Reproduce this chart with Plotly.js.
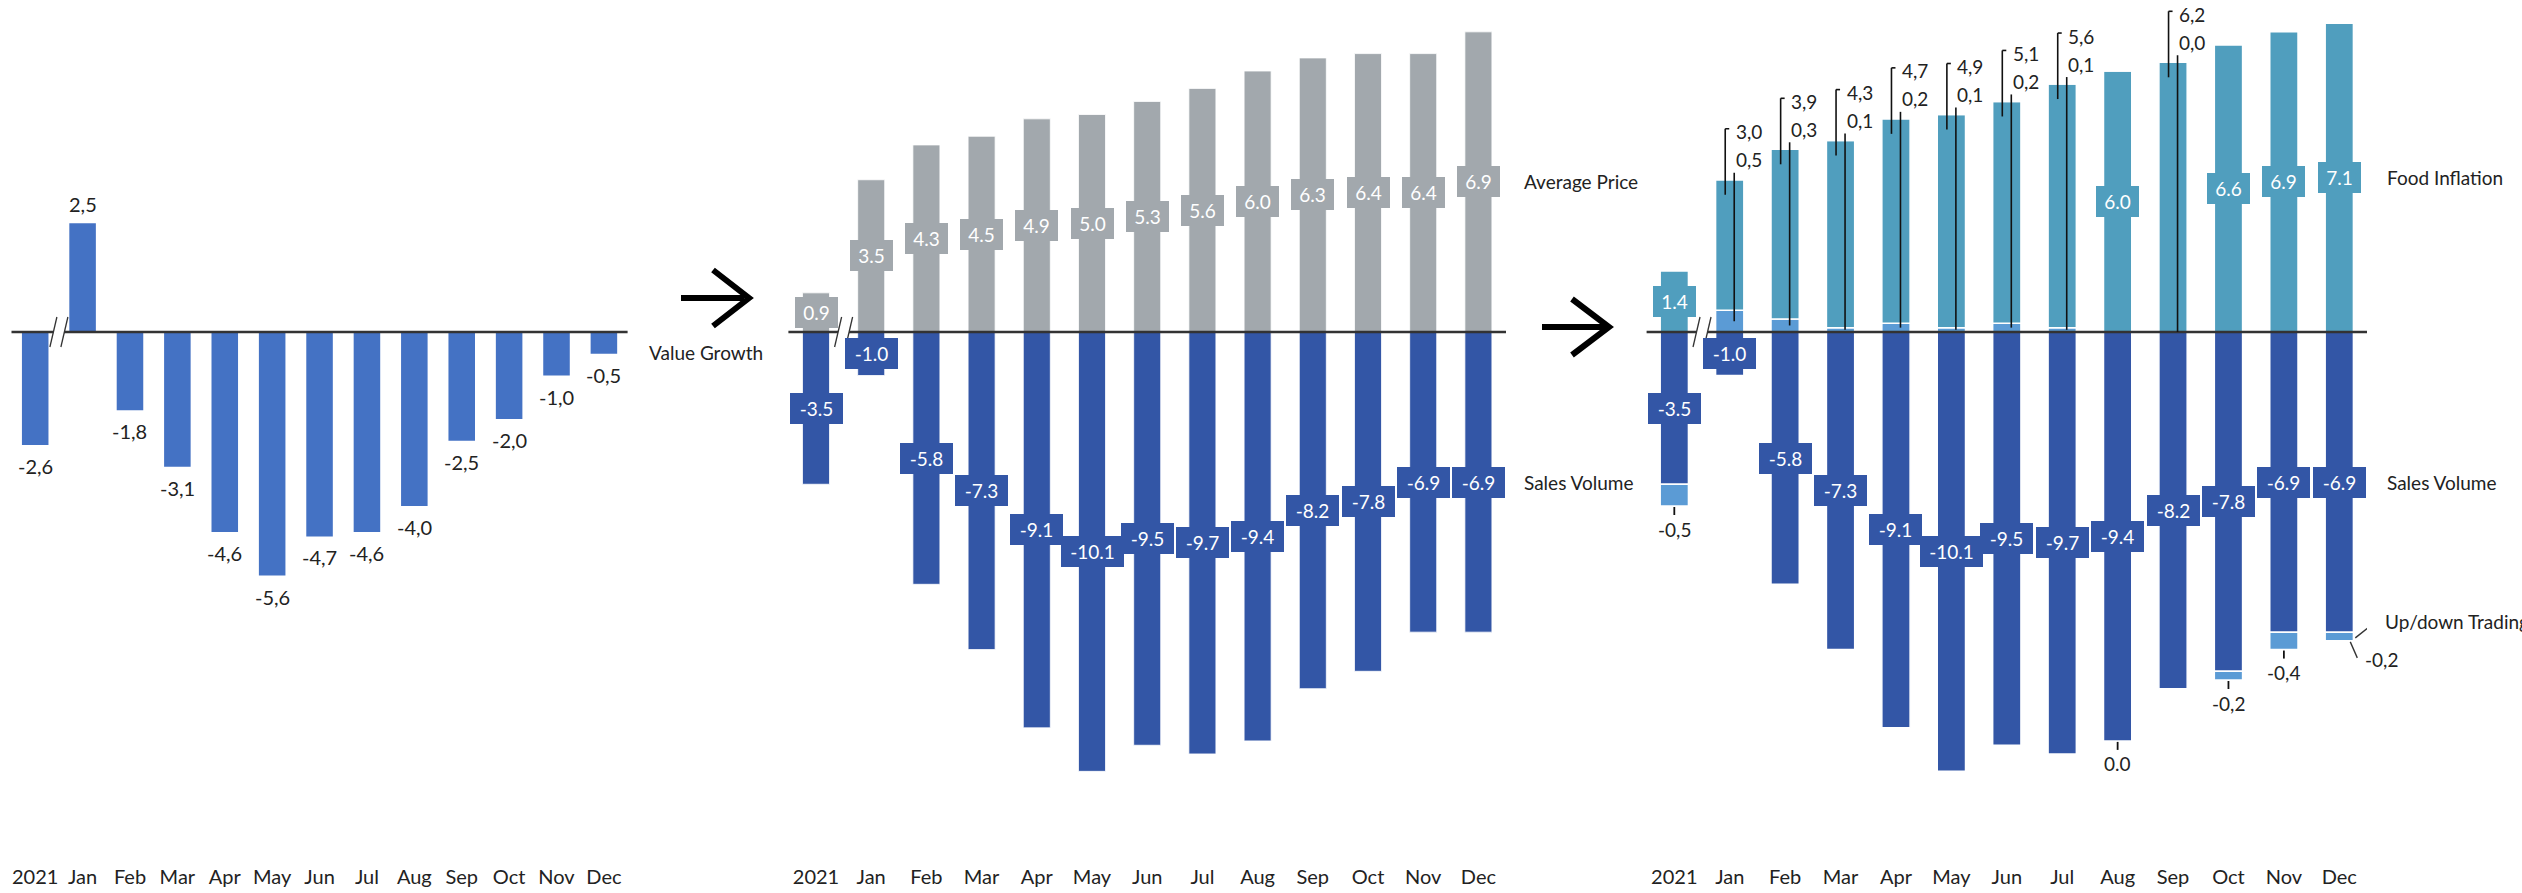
<!DOCTYPE html>
<html>
<head>
<meta charset="utf-8">
<script src="https://cdn.plot.ly/plotly-3.0.1.min.js"></script>
<style>
html,body{margin:0;padding:0;background:#fff;}
#chart{width:2522px;height:893px;}
</style>
</head>
<body>
<div id="chart"></div>
<script>
// ---------------- data ----------------
const categories = ['2021','Jan','Feb','Mar','Apr','May','Jun','Jul','Aug','Sep','Oct','Nov','Dec'];
const valueGrowth   = [-2.6, 2.5, -1.8, -3.1, -4.6, -5.6, -4.7, -4.6, -4.0, -2.5, -2.0, -1.0, -0.5];
const averagePrice  = [0.9, 3.5, 4.3, 4.5, 4.9, 5.0, 5.3, 5.6, 6.0, 6.3, 6.4, 6.4, 6.9];
const salesVolume   = [-3.5, -1.0, -5.8, -7.3, -9.1, -10.1, -9.5, -9.7, -9.4, -8.2, -7.8, -6.9, -6.9];
const foodInflation = [1.4, 3.0, 3.9, 4.3, 4.7, 4.9, 5.1, 5.6, 6.0, 6.2, 6.6, 6.9, 7.1];
// -0.0 = a zero reported on the downside (Aug), 0.0 = on the upside (Sep)
const upDownTrading = [-0.5, 0.5, 0.3, 0.1, 0.2, 0.1, 0.2, 0.1, -0.0, 0.0, -0.2, -0.4, -0.2];

// ---------------- geometry / style ----------------
const W = 2522, H = 893, MB = 30, PLOT_H = H - MB;
const ZERO_PX = 332, PX_Y = 43.5;
const Y_MAX = ZERO_PX / PX_Y, Y_MIN = Y_MAX - PLOT_H / PX_Y;
const dy = p => p / PX_Y;
const panels = [
  {ax:'x',  x0:11.5,   x1:627.6},
  {ax:'x2', x0:788.4,  x1:1506.0},
  {ax:'x3', x0:1646.6, x1:2367.0}
];
panels.forEach(p => { p.s = (p.x1 - p.x0) / 13; });
const dxr = (p, px) => px / panels[p].s;

const F = "Lato, 'Open Sans', sans-serif";
const TXT = '#222222';
const C_LEFT = '#4472C4', C_GRAY = '#A2A8AD', C_BLUE = '#3356A6', C_TEAL = '#509EBE', C_LIGHT = '#5B9BD5';

const idx = categories.map((_, i) => i);
const isDown = v => v < 0 || Object.is(v, -0);
const fmtC = v => v.toFixed(1).replace('.', ',');
const udtPos = upDownTrading.map(v => v > 0 ? v : 0);
const udtNeg = upDownTrading.map(v => v < 0 ? v : 0);

// ---------------- traces ----------------
const traces = [
  {type:'bar', x:idx, y:valueGrowth, xaxis:'x', yaxis:'y', width:0.56,
   marker:{color:C_LEFT}, hoverinfo:'skip'},
  {type:'bar', x:idx, y:averagePrice, xaxis:'x2', yaxis:'y', width:0.49,
   marker:{color:C_GRAY, line:{color:'#ffffff', width:0.8}}, hoverinfo:'skip'},
  {type:'bar', x:idx, y:salesVolume, xaxis:'x2', yaxis:'y', width:0.49,
   marker:{color:C_BLUE, line:{color:'#ffffff', width:0.8}}, hoverinfo:'skip'},
  {type:'bar', x:idx, y:udtPos, xaxis:'x3', yaxis:'y', width:0.51,
   marker:{color:C_LIGHT, line:{color:'#ffffff', width:1.5}}, hoverinfo:'skip'},
  {type:'bar', x:idx, y:foodInflation, xaxis:'x3', yaxis:'y', width:0.51,
   marker:{color:C_TEAL, line:{color:'#ffffff', width:1.5}}, hoverinfo:'skip'},
  {type:'bar', x:idx, y:salesVolume, xaxis:'x3', yaxis:'y', width:0.51,
   marker:{color:C_BLUE, line:{color:'#ffffff', width:1.5}}, hoverinfo:'skip'},
  {type:'bar', x:idx, y:udtNeg, xaxis:'x3', yaxis:'y', width:0.51,
   marker:{color:C_LIGHT, line:{color:'#ffffff', width:1.5}}, hoverinfo:'skip'}
];

// ---------------- annotations ----------------
const ann = [];
const plain = (xref, x, y, text, o) => Object.assign({xref, yref:'y', x, y, text, showarrow:false,
  font:{family:F, size:19, color:TXT}, xanchor:'center', yanchor:'middle'}, o || {});
const box = (xref, x, y, text, bg) => ({xref, yref:'y', x, y, text, showarrow:false,
  bgcolor:bg, borderpad:0, borderwidth:0, width:text.length * 10 + 13, height:31,
  font:{family:F, size:19, color:'#ffffff'}, xanchor:'center', yanchor:'middle'});

// left panel value labels
valueGrowth.forEach((v, i) => ann.push(plain('x', i, v, fmtC(v),
  {yshift: v >= 0 ? 19 : -21, font:{family:F, size:20, color:TXT}})));

// middle panel boxes
averagePrice.forEach((v, i) => ann.push(box('x2', i, v / 2, v.toFixed(1), C_GRAY)));
salesVolume.forEach((v, i) => ann.push(box('x2', i, v / 2, v.toFixed(1), C_BLUE)));

// right panel
const shapes = [];
const seg = (xref, x0, y0, x1, y1, w, c) => shapes.push({type:'line', xref, yref:'y', x0, y0, x1, y1,
  line:{color:c || '#111111', width:w || 1.6}});

salesVolume.forEach((v, i) => ann.push(box('x3', i, v / 2, v.toFixed(1), C_BLUE)));
const last = categories.length - 1;
foodInflation.forEach((fi, i) => {
  const u = upDownTrading[i];
  if (isDown(u)) {
    ann.push(box('x3', i, fi / 2, fi.toFixed(1), C_TEAL));
    const bottom = salesVolume[i] + u;
    const t = u === 0 ? Math.abs(u).toFixed(1) : fmtC(u);
    if (i === last) {
      ann.push(plain('x3', i, bottom, t, {xanchor:'left', xshift:24, yshift:-19}));
      seg('x3', i + dxr(2, 11), bottom - dy(1), i + dxr(2, 18), bottom - dy(17), 1.4, '#333333');
      ann.push(plain('x3', i, bottom, 'Up/down Trading',
        {xanchor:'left', xshift:44, yshift:19, font:{family:F, size:19, color:TXT}}));
      seg('x3', i + dxr(2, 16), bottom + dy(3), i + dxr(2, 39), bottom + dy(21), 1.4, '#333333');
    } else {
      ann.push(plain('x3', i, bottom, t, {yshift:-23}));
      seg('x3', i, bottom - dy(1), i, bottom - dy(9), 1.8);
    }
  } else {
    const total = fi + udtPos[i];
    ann.push(plain('x3', i, total, fmtC(fi), {xanchor:'left', xshift:4, yshift:48}));
    ann.push(plain('x3', i, total, fmtC(u),  {xanchor:'left', xshift:4, yshift:20}));
    const xl = i + dxr(2, -4.5), xr = i + dxr(2, 4.5);
    seg('x3', xl, total - dy(15), xl, total + dy(51));
    seg('x3', xl, total + dy(51), i + dxr(2, -0.5), total + dy(51));
    seg('x3', xr, udtPos[i] / 2, xr, total + dy(7));
  }
});

// series names
const nameFont = {family:F, size:19, color:TXT};
ann.push(plain('x2', -0.5, 0, 'Value Growth', {xanchor:'right', xshift:-23, yshift:-20, font:nameFont}));
ann.push(plain('x2', last, averagePrice[last] / 2, 'Average Price', {xanchor:'left', xshift:44, font:nameFont}));
ann.push(plain('x2', last, salesVolume[last] / 2, 'Sales Volume', {xanchor:'left', xshift:44, font:nameFont}));
ann.push(plain('x3', last, foodInflation[last] / 2, 'Food Inflation', {xanchor:'left', xshift:46, font:nameFont}));
ann.push(plain('x3', last, salesVolume[last] / 2, 'Sales Volume', {xanchor:'left', xshift:46, font:nameFont}));

// ---------------- shapes: zero lines, axis breaks, arrows ----------------
const baseShapes = [];
panels.forEach((p, k) => {
  baseShapes.push({type:'line', xref:p.ax + ' domain', yref:'y', x0:0, x1:1, y0:0, y1:0,
    line:{color:'#333333', width:2.5}});
});
panels.forEach((p, k) => {
  const c = 0.5;
  const a = dxr(k, -9), b = dxr(k, -2), e = dxr(k, 2), f = dxr(k, 9), h = dy(15);
  baseShapes.push({type:'path', xref:p.ax, yref:'y',
    path:`M ${c+a},${-h} L ${c+b},${h} L ${c+f},${h} L ${c+e},${-h} Z`,
    fillcolor:'#ffffff', line:{width:0}});
  baseShapes.push({type:'line', xref:p.ax, yref:'y', x0:c+a, y0:-h, x1:c+b, y1:h, line:{color:'#333333', width:1.3}});
  baseShapes.push({type:'line', xref:p.ax, yref:'y', x0:c+e, y0:-h, x1:c+f, y1:h, line:{color:'#333333', width:1.3}});
});
const px = v => v / W, py = v => (PLOT_H - v) / PLOT_H;
[[681, 744, 298, 713, 749, 28], [1542, 1604, 327, 1572, 1609, 28]].forEach(([s0, s1, yc, hx, tip, hh]) => {
  baseShapes.push({type:'path', xref:'paper', yref:'paper',
    path:`M ${px(s0)},${py(yc)} L ${px(s1)},${py(yc)} M ${px(hx)},${py(yc-hh)} L ${px(tip)},${py(yc)} L ${px(hx)},${py(yc+hh)}`,
    line:{color:'#000000', width:6}});
});

// ---------------- layout ----------------
const xaxisBase = p => ({domain:[p.x0 / W, p.x1 / W], range:[-0.5, 12.5], anchor:'y',
  tickvals:idx, ticktext:categories, showgrid:false, zeroline:false, showline:false, ticks:'',
  tickfont:{family:F, size:20, color:TXT}, fixedrange:true});

const layout = {
  width:W, height:H, margin:{l:0, r:0, t:0, b:MB},
  paper_bgcolor:'#ffffff', plot_bgcolor:'#ffffff',
  barmode:'relative', showlegend:false,
  font:{family:F, color:TXT},
  xaxis:xaxisBase(panels[0]), xaxis2:xaxisBase(panels[1]), xaxis3:xaxisBase(panels[2]),
  yaxis:{range:[Y_MIN, Y_MAX], visible:false, fixedrange:true},
  annotations:ann,
  shapes:baseShapes.concat(shapes)
};

Plotly.newPlot('chart', traces, layout, {staticPlot:true, displayModeBar:false});
</script>
</body>
</html>
